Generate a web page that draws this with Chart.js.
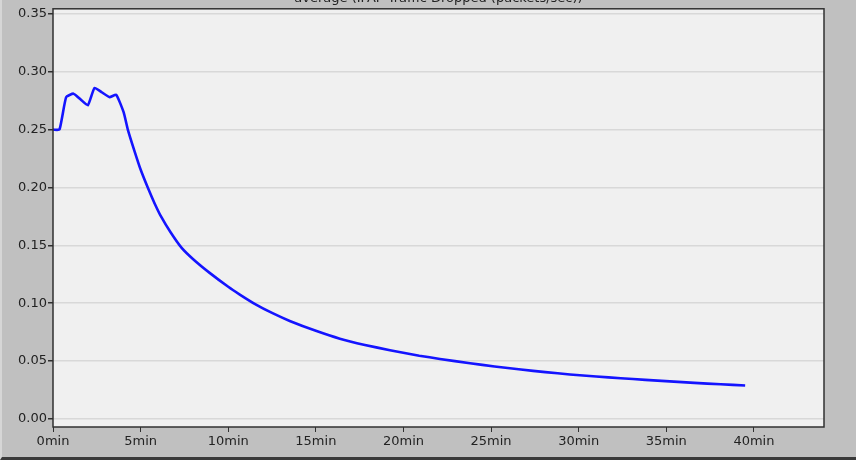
<!DOCTYPE html>
<html>
<head>
<meta charset="utf-8">
<script src="https://cdn.jsdelivr.net/npm/chart.js@4"></script>
<style>
    html, body { margin: 0; padding: 0; background: #c0c0c0; }
    #wrap {
        position: relative;
        width: 856px;
        height: 460px;
        box-sizing: border-box;
        border-left: 2px solid #d6d6d6;
        border-bottom: 3px solid #3a3a3a;
    }
    canvas { display: block; }
</style>
</head>
<body>
<div id="wrap"><canvas id="drop-chart" width="854" height="457"></canvas></div>
<script>
// Chart title (cut off at the top edge in the original)
const chartTitle = 'average (IFAP Traffic Dropped (packets/sec))';

// Time of each sample, minutes
const timeMinutes = [
    0, 0.37, 0.75, 1.17, 1.58, 1.99, 2.37, 2.8, 3.23, 3.61,
    4.03, 4.27, 4.66, 5.0, 5.42, 5.8, 6.18, 6.7, 7.33, 8.0, 8.94, 10.0, 10.66,
    11.51, 12.5, 13.51, 15.0, 16.37, 17.8, 19.23, 20.9, 22.08, 23.8, 25.2, 26.7,
    28.1, 29.5, 31.0, 32.4, 33.8, 35.2, 36.6, 38.1, 39.5
];

// Average dropped traffic, packets/sec
const droppedValues = [
    0.250, 0.250, 0.278, 0.281, 0.276, 0.271, 0.286, 0.282, 0.278, 0.280,
    0.265, 0.250, 0.231, 0.2155, 0.1995, 0.1862, 0.1745, 0.1615, 0.1480, 0.1380, 0.1262, 0.1142, 0.1075,
    0.0995, 0.0916, 0.0847, 0.0762, 0.0694, 0.0640, 0.0594, 0.0547, 0.0519, 0.0481, 0.0454, 0.0427,
    0.0405, 0.0385, 0.0367, 0.0352, 0.0338, 0.0325, 0.0312, 0.0300, 0.0290
];

// Axis tick values
const xTicks = [0, 5, 10, 15, 20, 25, 30, 35, 40];
const yTicks = [0, 0.05, 0.10, 0.15, 0.20, 0.25, 0.30, 0.35];

// Paint the plot background and the frame around it
const plotFrame = {
    id: 'plotFrame',
    beforeDraw(chart) {
        const a = chart.chartArea;
        const ctx = chart.ctx;
        ctx.save();
        ctx.fillStyle = '#f0f0f0';
        ctx.fillRect(a.left, a.top, a.right - a.left, a.bottom - a.top);
        ctx.restore();
    },
    afterDraw(chart) {
        const a = chart.chartArea;
        const ctx = chart.ctx;
        ctx.save();
        ctx.strokeStyle = '#303030';
        ctx.lineWidth = 1.5;
        ctx.strokeRect(a.left, a.top, a.right - a.left, a.bottom - a.top);
        ctx.restore();
    }
};

function drawChart() {
    const points = timeMinutes.map((t, i) => ({ x: t, y: droppedValues[i] }));
    const ctx = document.getElementById('drop-chart').getContext('2d');

    new Chart(ctx, {
        type: 'line',
        data: {
            datasets: [{
                label: chartTitle,
                data: points,
                borderColor: '#1414ff',
                borderWidth: 2.6,
                pointRadius: 0,
                tension: 0.15,
                fill: false
            }]
        },
        options: {
            responsive: false,
            animation: false,
            layout: { padding: { top: 0, right: 32, bottom: 0, left: 0 } },
            plugins: {
                legend: { display: false },
                tooltip: { enabled: false },
                title: {
                    display: true,
                    fullSize: false,
                    text: chartTitle,
                    color: '#222',
                    font: { family: 'DejaVu Sans', size: 13, weight: 'normal' },
                    padding: { top: -10, bottom: 2.2 }
                }
            },
            scales: {
                x: {
                    type: 'linear',
                    min: 0,
                    max: 44,
                    afterBuildTicks: scale => { scale.ticks = xTicks.map(v => ({ value: v })); },
                    afterFit: scale => { scale.height = 30; },
                    grid: {
                        drawOnChartArea: false,
                        drawTicks: true,
                        tickLength: 5,
                        tickColor: '#303030'
                    },
                    border: { display: false },
                    ticks: {
                        padding: 2,
                        color: '#222',
                        font: { family: 'DejaVu Sans', size: 13 },
                        maxRotation: 0,
                        callback: v => v + 'min'
                    }
                },
                y: {
                    min: -0.0069,
                    max: 0.3543,
                    afterBuildTicks: scale => { scale.ticks = yTicks.map(v => ({ value: v })); },
                    afterFit: scale => { scale.width = 51; },
                    grid: {
                        color: '#d8d8d8',
                        lineWidth: 1.5,
                        drawTicks: true,
                        tickLength: 5,
                        tickColor: '#303030'
                    },
                    border: { display: false },
                    ticks: {
                        padding: 1,
                        color: '#222',
                        font: { family: 'DejaVu Sans', size: 13 },
                        callback: v => v.toFixed(2)
                    }
                }
            }
        },
        plugins: [plotFrame]
    });
}

document.addEventListener('DOMContentLoaded', function() {
    drawChart();
});
</script>
</body>
</html>
